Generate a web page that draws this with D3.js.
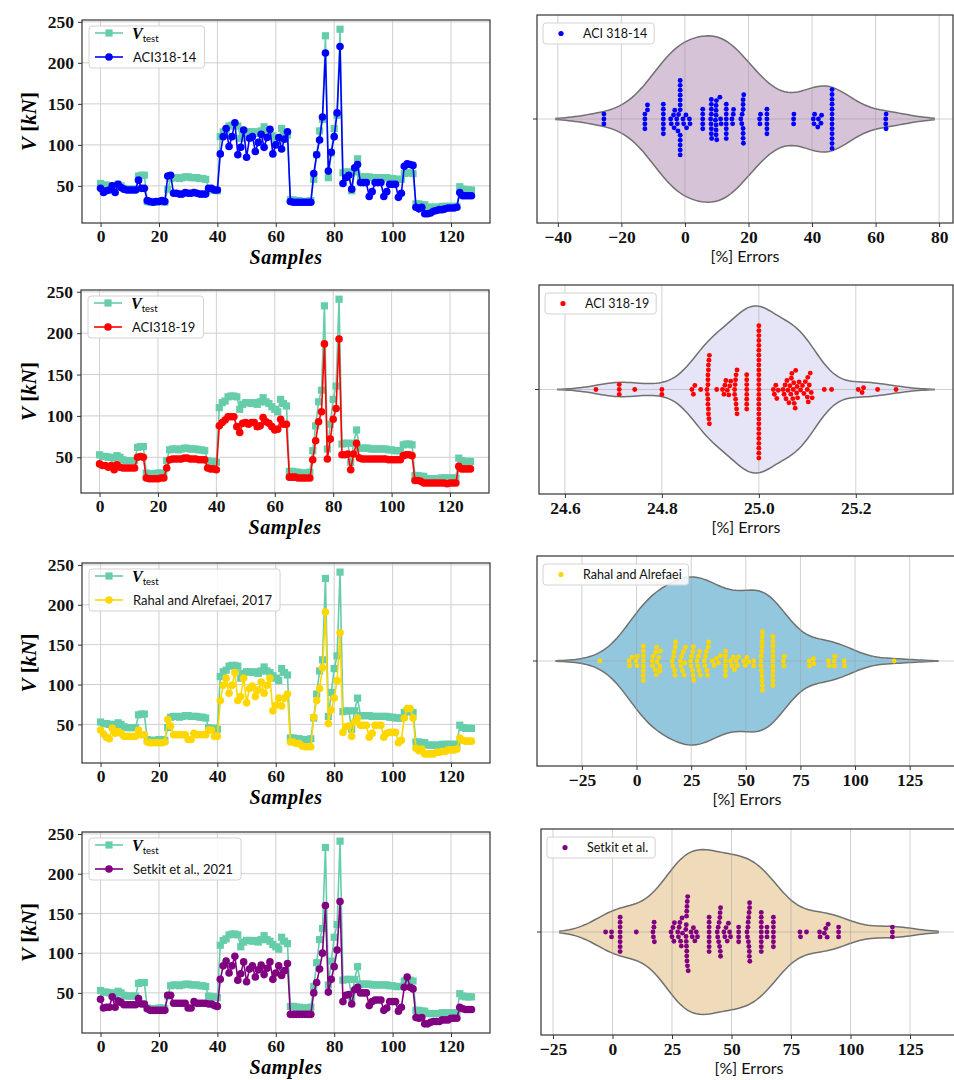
<!DOCTYPE html>
<html>
<head>
<meta charset="utf-8">
<script src="https://cdn.jsdelivr.net/npm/d3@7"></script>
<style>
  body { margin: 0; background: #fff; }
  svg { display: block; }
</style>
</head>
<body>
<svg id="fig" width="954" height="1080"></svg>
<script>
// ---------- data ----------
const vTest = [53,51,51,50,50,49,52,50,47,46,46,46,46,
  62,63,63,
  31,30,30,30,31,31,30,
  46,
  59,60,60,59,60,61,61,60,60,60,59,59,58,
  46,45,45,44,
  110,116,118,123,124,124,123,108,114,116,116,115,116,114,117,122,117,115,111,108,105,120,115,112,
  33,33,32,32,31,31,31,32,
  58,88,117,131,233,60,90,120,136,241,
  66,67,67,44,67,83,
  61,61,61,61,60,60,60,60,60,60,59,59,58,58,58,
  65,66,66,65,
  28,28,27,27,24,24,24,24,24,25,25,25,25,25,25,
  49,46,45,45,45];

const aci14 = [47,42,44,45,50,42,52,48,46,45,45,45,45,
  57,47,47,
  32,31,30,31,31,32,31,
  62,
  63,41,41,40,40,42,41,41,42,41,40,40,40,
  47,47,45,45,
  89,110,120,98,110,127,88,97,118,85,108,110,92,103,113,97,109,119,89,100,109,95,107,116,
  31,30,30,30,30,30,30,30,
  65,88,106,134,212,68,91,110,139,220,
  53,60,63,46,72,76,
  54,54,54,37,43,54,54,54,37,43,52,52,52,36,41,
  74,77,76,75,
  24,22,24,16,16,17,19,20,21,21,22,23,23,23,24,
  42,38,38,38,38];

const aci19 = [42,40,40,38,40,35,41,38,37,37,37,37,37,
  50,51,50,
  25,24,24,24,24,25,25,
  37,
  47,48,48,48,48,49,49,48,48,48,47,47,47,
  37,36,36,35,
  88,92,95,99,99,99,87,80,91,92,90,92,92,87,88,98,93,91,87,83,84,96,90,90,
  26,26,26,25,25,25,25,25,
  47,70,93,105,187,48,72,96,109,193,
  53,53,54,35,54,67,
  49,48,48,48,48,48,48,48,48,48,47,47,47,47,47,
  52,53,53,52,
  22,22,21,19,19,19,19,19,19,19,19,18,19,19,19,
  39,36,36,36,36];

const rahal = [43,38,34,32,45,39,41,39,35,35,35,35,35,
  43,37,37,
  28,27,27,27,27,27,28,
  56,
  48,37,37,37,37,37,31,31,39,37,37,37,37,
  43,43,35,35,
  80,99,108,89,99,115,80,85,108,77,95,98,85,93,103,89,99,108,67,74,83,73,83,88,
  28,28,26,26,23,22,22,22,
  59,80,95,121,191,51,68,83,105,165,
  40,47,48,35,53,58,
  49,49,49,34,39,49,49,49,34,39,40,40,40,27,30,
  58,70,70,58,
  20,17,19,13,13,13,13,15,15,16,16,18,18,18,19,
  33,30,29,29,29];

const setkit = [42,31,32,32,45,32,40,38,35,35,35,35,35,
  43,36,36,
  30,28,28,28,28,28,28,
  47,
  47,37,37,37,37,37,31,31,39,37,37,37,37,
  36,36,34,33,
  67,84,90,75,84,96,66,74,89,64,80,84,70,79,85,73,81,89,67,75,84,72,78,87,
  23,23,23,23,23,23,23,23,
  50,63,80,100,160,51,67,83,104,165,
  39,47,48,36,54,57,
  50,50,50,34,39,41,41,41,28,31,39,39,39,27,32,
  57,70,57,55,
  19,18,19,11,11,13,14,14,14,16,16,16,18,18,18,
  32,30,29,29,29];

// percentage errors per sample, one list per design model
const errAci14 = [-25.5,-25.5,-25.5,
  -12.6,-12.6,-12.6,-12.6,-11.8,-11.8,
  -6.8,-6.8,-6.8,-6.8,-6.8,-6.8,-6.8,
  -4.5,-4.3,-3.6,-3.4,-3.2,
  -2.6,-2.4,-2.2,-2.0,
  -1.5,-1.5,-1.5,-1.5,-1.5,-1.5,-1.5,-1.5,-1.5,-1.5,-1.5,-1.5,
  -0.6,-0.4,0.3,0.5,1.4,1.6,
  5.6,5.6,5.6,5.6,5.6,
  8.1,8.2,8.3,8.3,8.3,8.3,8.3,8.3,8.4,
  9.6,9.8,9.8,9.8,9.8,9.8,9.8,9.9,10.0,
  11.0,11.2,11.4,
  13.0,13.0,13.0,13.0,13.0,13.0,13.0,13.0,
  14.8,15.0,15.2,15.3,
  17.6,17.9,18.0,18.3,18.3,18.3,18.3,18.3,18.3,18.4,18.5,
  23.5,23.6,23.8,
  25.8,25.8,25.8,25.8,25.8,25.8,
  34.2,34.2,34.3,
  40.4,40.6,40.8,41.8,42.0,42.8,43.0,
  46.3,46.3,46.3,46.3,46.3,46.3,46.3,46.3,46.3,46.3,46.3,46.3,46.3,
  63.2,63.2,63.3,63.3];

const errAci19 = [24.664,
  24.712,24.712,24.712,
  24.744,
  24.800,24.800,
  24.862,24.865,24.868,24.880,
  24.893,24.894,24.895,24.895,24.895,24.895,24.895,24.896,24.896,24.896,24.896,24.897,24.897,24.898,24.898,
  24.913,
  24.925,24.928,24.930,24.932,24.935,24.938,24.940,24.942,
  24.950,24.950,24.951,24.952,24.952,24.953,24.953,24.954,24.955,24.955,
  24.975,24.975,24.975,24.975,24.975,24.975,24.975,24.975,
  25.000,25.000,25.000,25.000,25.000,25.000,25.000,25.000,25.000,25.000,
  25.000,25.000,25.000,25.000,25.000,25.000,25.000,25.000,25.000,25.000,
  25.000,25.000,25.000,25.000,25.000,25.000,25.000,25.000,
  25.030,25.032,25.035,25.037,25.040,
  25.050,25.052,25.054,25.056,25.058,25.060,25.062,25.064,25.066,25.067,25.068,25.070,25.071,25.072,25.073,25.075,25.076,25.078,25.079,25.080,
  25.083,25.086,25.090,25.093,25.096,25.100,25.100,25.101,25.102,25.104,25.106,25.108,
  25.110,
  25.135,25.150,
  25.205,25.213,25.216,
  25.245,
  25.283];

const errRahal = [-16.8,
  -3.4,-3.2,-2.0,-0.2,0.2,0.4,
  3.1,3.1,3.1,3.1,3.1,3.1,3.1,3.1,
  7.2,7.4,7.6,8.6,8.8,9.0,9.2,9.4,10.2,10.6,10.8,11.0,
  16.3,16.6,17.0,17.2,17.4,17.6,17.8,17.9,
  20.0,20.3,20.6,21.0,21.4,21.8,22.1,22.4,
  24.7,24.9,25.2,25.5,25.7,25.9,26.0,26.2,
  27.7,28.0,28.3,28.6,28.9,29.2,
  31.0,31.3,31.6,31.9,32.2,32.5,32.8,33.0,
  34.6,35.5,36.5,37.5,38.4,
  40.7,40.7,40.7,40.7,40.7,40.7,
  43.0,43.6,44.2,44.8,45.5,46.1,46.7,
  49.0,49.8,50.5,51.3,
  53.6,53.6,
  56.9,57.0,57.1,57.2,57.3,57.4,57.4,57.4,57.5,57.5,57.6,57.6,57.6,
  62.4,62.4,62.4,62.4,62.4,62.4,62.4,62.4,62.4,62.4,62.4,
  67.2,67.4,67.6,
  79.0,79.2,81.0,81.2,
  87.8,88.2,90.4,90.6,90.8,
  95.0,95.2,
  117.9];

const errSetkit = [-2.9,-0.4,-0.4,
  3.2,3.2,3.2,3.2,3.2,3.2,3.2,3.2,
  10.0,
  17.0,17.2,17.4,17.5,17.6,
  24.6,25.0,25.4,25.8,26.0,
  27.4,27.7,28.0,28.3,28.6,28.9,29.2,29.4,
  30.8,30.9,31.0,31.0,31.1,31.1,31.2,31.2,31.2,31.3,31.3,31.4,31.5,31.6,31.8,
  33.0,33.5,34.0,34.6,35.2,35.7,
  40.6,40.6,40.6,40.6,40.6,40.6,40.6,40.6,
  44.0,44.2,44.4,44.6,44.8,45.0,45.1,45.2,45.3,45.4,45.4,
  46.8,47.2,47.7,48.2,48.7,49.2,49.6,
  53.0,53.0,53.0,53.0,
  56.5,56.7,56.9,57.0,57.1,57.2,57.3,57.4,57.5,57.5,57.6,57.6,57.7,
  62.5,62.5,62.5,62.5,62.5,62.5,62.5,62.5,62.5,
  64.9,64.9,64.9,
  67.6,67.6,67.6,67.6,67.6,67.6,67.6,
  78.75,79.0,81.5,
  87.0,87.2,89.0,89.6,90.2,90.6,
  95.0,95.0,95.0,
  117.6,117.6,117.6];

const sampleTicks = [0, 20, 40, 60, 80, 100, 120];
const forceTicks = [50, 100, 150, 200, 250];
const errTicksAci14 = [-40, -20, 0, 20, 40, 60, 80];
const errTicksAci19 = [24.6, 24.8, 25.0, 25.2];
const errTicksRahal = [-25, 0, 25, 50, 75, 100, 125];
const errTicksSetkit = [-25, 0, 25, 50, 75, 100, 125];

// ---------- layout ----------
const TEAL = "mediumaquamarine";
const SERIF = "'Liberation Serif', 'DejaVu Serif', serif";
const SANS = "Lato, 'Open Sans', 'DejaVu Sans', sans-serif";

const rows = [
  { pred: aci14, color: "blue", label: "ACI318-14",
    err: errAci14, errLabel: "ACI 318-14", fill: "#d6c3d7", ticks: errTicksAci14, fmt: d3.format("d"),
    left: { x0: 82, x1: 490, y0: 20, y1: 223 }, right: { x0: 537, x1: 953, y0: 15, y1: 223 } },
  { pred: aci19, color: "red", label: "ACI318-19",
    err: errAci19, errLabel: "ACI 318-19", fill: "#e5e5f7", ticks: errTicksAci19, fmt: d3.format(".1f"),
    left: { x0: 81, x1: 489, y0: 290, y1: 493 }, right: { x0: 539, x1: 953, y0: 285, y1: 494 } },
  { pred: rahal, color: "gold", label: "Rahal and Alrefaei, 2017",
    err: errRahal, errLabel: "Rahal and Alrefaei", fill: "#93c7de", ticks: errTicksRahal, fmt: d3.format("d"),
    left: { x0: 82, x1: 490, y0: 563, y1: 763 }, right: { x0: 537, x1: 957, y0: 556, y1: 766 } },
  { pred: setkit, color: "purple", label: "Setkit et al., 2021",
    err: errSetkit, errLabel: "Setkit et al.", fill: "#efdbb9", ticks: errTicksSetkit, fmt: d3.format("d"),
    left: { x0: 82, x1: 490, y0: 832, y1: 1033 }, right: { x0: 541, x1: 957, y0: 829, y1: 1035 } }
];

const svg = d3.select("#fig");

function styleAxis(sel) {
  sel.select(".domain").remove();
  sel.selectAll(".tick line").attr("stroke", "#333").attr("stroke-width", 1);
  sel.selectAll(".tick text")
    .attr("font-family", SERIF).attr("font-weight", "bold").attr("font-size", 17.5).attr("fill", "#111");
}

function spines(g, b) {
  g.append("rect")
    .attr("x", b.x0).attr("y", b.y0)
    .attr("width", b.x1 - b.x0).attr("height", b.y1 - b.y0)
    .attr("fill", "none").attr("stroke", "#333").attr("stroke-width", 1.2);
}

// ---------- left: test vs predicted shear strength ----------
function drawSeries(row) {
  const b = row.left;
  const g = svg.append("g");
  const n = vTest.length;
  const idx = d3.range(n);
  const x = d3.scaleLinear().domain([-0.05 * (n - 1), (n - 1) * 1.05]).range([b.x0, b.x1]);
  const [mn, mx] = d3.extent(vTest.concat(row.pred));
  const pad = 0.05 * (mx - mn);
  const y = d3.scaleLinear().domain([mn - pad, mx + pad]).range([b.y1, b.y0]);

  const grid = g.append("g").attr("stroke", "#cfcfcf").attr("stroke-width", 1);
  grid.selectAll(".gx").data(sampleTicks).join("line")
    .attr("x1", d => x(d)).attr("x2", d => x(d)).attr("y1", b.y0).attr("y2", b.y1);
  grid.selectAll(".gy").data(forceTicks).join("line")
    .attr("y1", d => y(d)).attr("y2", d => y(d)).attr("x1", b.x0).attr("x2", b.x1);

  const line = d3.line().x((d, i) => x(i)).y(d => y(d));
  g.append("path").datum(vTest).attr("d", line)
    .attr("fill", "none").attr("stroke", TEAL).attr("stroke-width", 1.6);
  g.append("g").selectAll("rect").data(idx).join("rect")
    .attr("x", i => x(i) - 3.6).attr("y", i => y(vTest[i]) - 3.6)
    .attr("width", 7.2).attr("height", 7.2).attr("fill", TEAL);

  g.append("path").datum(row.pred).attr("d", line)
    .attr("fill", "none").attr("stroke", row.color).attr("stroke-width", 1.6);
  g.append("g").selectAll("circle").data(idx).join("circle")
    .attr("cx", i => x(i)).attr("cy", i => y(row.pred[i])).attr("r", 3.8).attr("fill", row.color);

  spines(g, b);

  g.append("g").attr("transform", `translate(0,${b.y1})`)
    .call(d3.axisBottom(x).tickValues(sampleTicks).tickSize(4).tickPadding(3).tickFormat(d3.format("d")))
    .call(styleAxis);
  g.append("g").attr("transform", `translate(${b.x0},0)`)
    .call(d3.axisLeft(y).tickValues(forceTicks).tickSize(4).tickPadding(4).tickFormat(d3.format("d")))
    .call(styleAxis);

  // axis titles
  g.append("text")
    .attr("x", (b.x0 + b.x1) / 2).attr("y", b.y1 + 41)
    .attr("text-anchor", "middle").attr("font-family", SERIF)
    .attr("font-style", "italic").attr("font-weight", "bold").attr("font-size", 20)
    .attr("letter-spacing", 0.6).text("Samples");
  const yl = g.append("text")
    .attr("transform", `translate(36,${(b.y0 + b.y1) / 2}) rotate(-90)`)
    .attr("text-anchor", "middle").attr("font-family", SERIF).attr("font-size", 21).attr("font-weight", "bold");
  yl.append("tspan").attr("font-style", "italic").text("V");
  yl.append("tspan").text(" [");
  yl.append("tspan").attr("font-style", "italic").text("kN");
  yl.append("tspan").text("]");

  // legend
  const lg = g.append("g").attr("transform", `translate(${b.x0 + 7},${b.y0 + 6})`);
  const box = lg.append("rect").attr("height", 42).attr("rx", 3)
    .attr("fill", "#fff").attr("fill-opacity", 0.85).attr("stroke", "#d3d3d3").attr("stroke-width", 1);
  const entries = [
    { kind: "sq", color: TEAL, yy: 7 },
    { kind: "ci", color: row.color, yy: 31 }
  ];
  entries.forEach(e => {
    lg.append("line").attr("x1", 6).attr("x2", 34).attr("y1", e.yy).attr("y2", e.yy)
      .attr("stroke", e.color).attr("stroke-width", 1.6);
    if (e.kind === "sq") {
      lg.append("rect").attr("x", 20 - 3.6).attr("y", e.yy - 3.6).attr("width", 7.2).attr("height", 7.2).attr("fill", e.color);
    } else {
      lg.append("circle").attr("cx", 20).attr("cy", e.yy).attr("r", 3.8).attr("fill", e.color);
    }
  });
  const t1 = lg.append("text").attr("x", 43).attr("y", 7 + 5.5);
  t1.append("tspan").attr("font-family", SERIF).attr("font-style", "italic").attr("font-weight", "bold")
    .attr("font-size", 16).text("V");
  t1.append("tspan").attr("font-family", SANS).attr("font-size", 9.5).attr("dy", 3).text("test");
  const t2 = lg.append("text").attr("x", 44).attr("y", 31 + 4.8)
    .attr("font-family", SANS).attr("font-size", 13).attr("fill", "#111").text(row.label);
  const w = Math.max(t1.node().getComputedTextLength() + 43, t2.node().getComputedTextLength() + 44) + 8;
  box.attr("width", w);
}

// ---------- right: error distribution (violin + swarm) ----------
function kdeCurve(values) {
  const n = values.length;
  const bw = d3.deviation(values) * Math.pow(n, -0.2);
  const lo = d3.min(values) - 2 * bw, hi = d3.max(values) + 2 * bw;
  const grid = d3.range(120).map(i => lo + (hi - lo) * i / 119);
  const dens = grid.map(gv => d3.sum(values, v => Math.exp(-0.5 * ((gv - v) / bw) ** 2)));
  const top = d3.max(dens);
  return { lo, hi, pts: grid.map((gv, i) => [gv, dens[i] / top]) };
}

function swarmLayout(values, x, r) {
  const pts = values.map(v => ({ v, px: x(v) })).sort((a, b) => a.px - b.px);
  const placed = [];
  const d = 2 * r;
  for (const p of pts) {
    const near = placed.filter(q => Math.abs(q.px - p.px) < d);
    const cands = [0];
    near.forEach(q => {
      const dy = Math.sqrt(d * d - (p.px - q.px) ** 2);
      cands.push(q.off + dy, q.off - dy);
    });
    cands.sort((a, b) => Math.abs(a) - Math.abs(b));
    p.off = cands.find(c => near.every(q => (p.px - q.px) ** 2 + (c - q.off) ** 2 >= d * d - 1e-6));
    placed.push(p);
  }
  return pts;
}

function drawErrors(row) {
  const b = row.right;
  const g = svg.append("g");
  const k = kdeCurve(row.err);
  const span = k.hi - k.lo;
  const x = d3.scaleLinear().domain([k.lo - 0.05 * span, k.hi + 0.05 * span]).range([b.x0, b.x1]);
  const cy = (b.y0 + b.y1) / 2;
  const half = 0.4 * (b.y1 - b.y0);
  const w = d3.scaleLinear().domain([0, 1]).range([0, half]);

  const area = d3.area().x(d => x(d[0])).y0(d => cy + w(d[1])).y1(d => cy - w(d[1]));
  g.append("path").datum(k.pts).attr("d", area)
    .attr("fill", row.fill).attr("stroke", "#707070").attr("stroke-width", 1.5);

  const grid = g.append("g").attr("stroke", "#9a9a9a").attr("stroke-opacity", 0.45).attr("stroke-width", 1);
  grid.selectAll(".gx").data(row.ticks).join("line")
    .attr("x1", d => x(d)).attr("x2", d => x(d)).attr("y1", b.y0).attr("y2", b.y1);
  grid.append("line").attr("x1", b.x0).attr("x2", b.x1).attr("y1", cy).attr("y2", cy);

  const r = 2.45;
  const pts = swarmLayout(row.err, x, r);
  g.append("g").selectAll("circle").data(pts).join("circle")
    .attr("cx", p => p.px).attr("cy", p => cy + p.off).attr("r", r).attr("fill", row.color);

  spines(g, b);
  g.append("line").attr("x1", b.x0 - 4).attr("x2", b.x0).attr("y1", cy).attr("y2", cy)
    .attr("stroke", "#333").attr("stroke-width", 1);

  g.append("g").attr("transform", `translate(0,${b.y1})`)
    .call(d3.axisBottom(x).tickValues(row.ticks).tickSize(4).tickPadding(4).tickFormat(row.fmt))
    .call(styleAxis);

  g.append("text")
    .attr("x", (b.x0 + b.x1) / 2).attr("y", b.y1 + 39)
    .attr("text-anchor", "middle").attr("font-family", SANS).attr("font-size", 16)
    .attr("fill", "#111").text("[%] Errors");

  // legend
  const lg = g.append("g").attr("transform", `translate(${b.x0 + 6},${b.y0 + 8})`);
  const box = lg.append("rect").attr("height", 21).attr("rx", 3)
    .attr("fill", "#fff").attr("fill-opacity", 0.85).attr("stroke", "#d3d3d3").attr("stroke-width", 1);
  lg.append("circle").attr("cx", 18).attr("cy", 10.5).attr("r", 2.6).attr("fill", row.color);
  const t = lg.append("text").attr("x", 40).attr("y", 15)
    .attr("font-family", SANS).attr("font-size", 12.5).attr("fill", "#111").text(row.errLabel);
  box.attr("width", t.node().getComputedTextLength() + 47);
}

rows.forEach(row => { drawSeries(row); drawErrors(row); });
</script>
</body>
</html>
